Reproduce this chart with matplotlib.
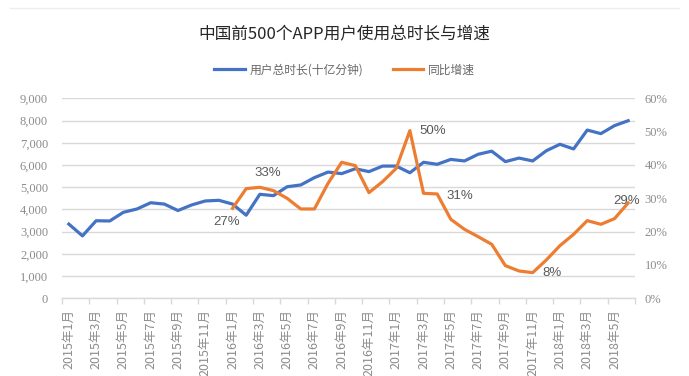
import matplotlib
matplotlib.use("Agg")
import matplotlib.pyplot as plt
from matplotlib.lines import Line2D
from matplotlib.ticker import FuncFormatter, FixedLocator

plt.rcParams['font.family'] = ['Noto Sans CJK SC', 'DejaVu Sans']

# ---- data ----
months = [f"{y}年{m}月" for y in (2015, 2016, 2017, 2018) for m in range(1, 13)][:42]
total_time = [3340, 2810, 3490, 3480, 3870, 4020, 4300, 4240, 3950, 4200,
              4380, 4410, 4240, 3740, 4680, 4620, 5020, 5100, 5430, 5680,
              5610, 5830, 5700, 5950, 5950, 5650, 6120, 6030, 6250, 6180,
              6480, 6620, 6150, 6310, 6180, 6640, 6930, 6720, 7570, 7410,
              7770, 7990]
yoy_growth = [None] * 12 + [27.0, 32.9, 33.3, 32.3, 30.0, 26.8, 26.8, 34.5,
                            40.8, 39.8, 31.7, 35.0, 39.0, 50.3, 31.5, 31.3,
                            23.7, 20.7, 18.5, 16.2, 9.8, 8.2, 7.7, 11.5,
                            15.8, 19.2, 23.3, 22.2, 23.9, 28.6]
label_idx = [12, 14, 25, 27, 34, 41]
label_offsets = [(-4.4, -9.6), (5.6, 10), (16.2, 0), (16.4, -1.2), (13.7, -0.4), (-1.4, 1.7)]
title = "中国前500个APP用户使用总时长与增速"
series_names = ["用户总时长(十亿分钟)", "同比增速"]

BLUE = "#4472C4"
ORANGE = "#ED7D31"
GRID = "#D9D9D9"
TICK = "#8C8C8C"

fig = plt.figure(figsize=(6.89, 3.76), dpi=100)
ax = fig.add_axes([0.090, 0.2066, 0.8316, 0.532])
ax2 = ax.twinx()

x = list(range(len(months)))
ax.plot(x, total_time, color=BLUE, lw=2.3, solid_joinstyle='round', zorder=3)

xo = [i for i, v in enumerate(yoy_growth) if v is not None]
yo = [v for v in yoy_growth if v is not None]
ax2.plot(xo, yo, color=ORANGE, lw=2.3, solid_joinstyle='round', zorder=3)

ax.set_xlim(-0.5, len(months) - 0.5)
ax.set_ylim(0, 9000)
ax2.set_ylim(0, 60)
ax.set_yticks(range(0, 9001, 1000))
ax2.set_yticks(range(0, 61, 10))
ax.yaxis.set_major_formatter(FuncFormatter(lambda v, p: f"{int(v):,}"))
ax2.yaxis.set_major_formatter(FuncFormatter(lambda v, p: f"{int(v)}%"))

ax.grid(axis='y', color=GRID, lw=1.0)
ax.set_axisbelow(True)
for a in (ax, ax2):
    for s in ('top', 'left', 'right'):
        a.spines[s].set_visible(False)
    a.spines['bottom'].set_color(GRID)
    a.spines['bottom'].set_linewidth(1.0)
ax2.spines['bottom'].set_visible(False)

ax.tick_params(axis='y', length=0, pad=10, labelsize=9, labelcolor=TICK)
ax2.tick_params(axis='y', length=0, pad=7, labelsize=9, labelcolor=TICK)
for lab in ax.get_yticklabels() + ax2.get_yticklabels():
    lab.set_family('Liberation Serif')

# x ticks: marks at every 2 category boundaries, labels on every other category
ax.xaxis.set_major_locator(FixedLocator([i - 0.5 for i in range(0, len(months) + 1, 2)]))
ax.xaxis.set_major_formatter(FuncFormatter(lambda v, p: ""))
ax.xaxis.set_minor_locator(FixedLocator(list(range(0, len(months), 2))))
ax.set_xticklabels([months[i] for i in range(0, len(months), 2)], minor=True,
                   rotation=90, fontsize=9, color=TICK, va='top', ha='center')
ax.tick_params(axis='x', which='major', length=4, color=GRID, width=1)
ax.tick_params(axis='x', which='minor', length=0, pad=8)

for i, (dx, dy) in zip(label_idx, label_offsets):
    v = yoy_growth[i]
    ax2.annotate(f"{round(v)}%", xy=(i, v), xytext=(dx, dy), textcoords='offset points',
                 ha='center', va='center', fontsize=9.5, color='#595959',
                 family=['Liberation Sans', 'DejaVu Sans'], zorder=5)

fig.text(0.5, 0.907, title, ha='center', va='center', fontsize=12, color='#262626')

handles = [Line2D([], [], color=BLUE, lw=2.3), Line2D([], [], color=ORANGE, lw=2.3)]
fig.legend(handles, series_names, loc='center', bbox_to_anchor=(0.5, 0.814), ncol=2,
           frameon=False, fontsize=8.5, labelcolor='#666666', handlelength=2.6,
           columnspacing=2.5, handletextpad=0.4)

fig.add_artist(Line2D([0.015, 0.985], [1 - 8 / 376, 1 - 8 / 376], transform=fig.transFigure,
                      color='#EEEEEE', lw=1))

fig.savefig("out.png", dpi=100)
